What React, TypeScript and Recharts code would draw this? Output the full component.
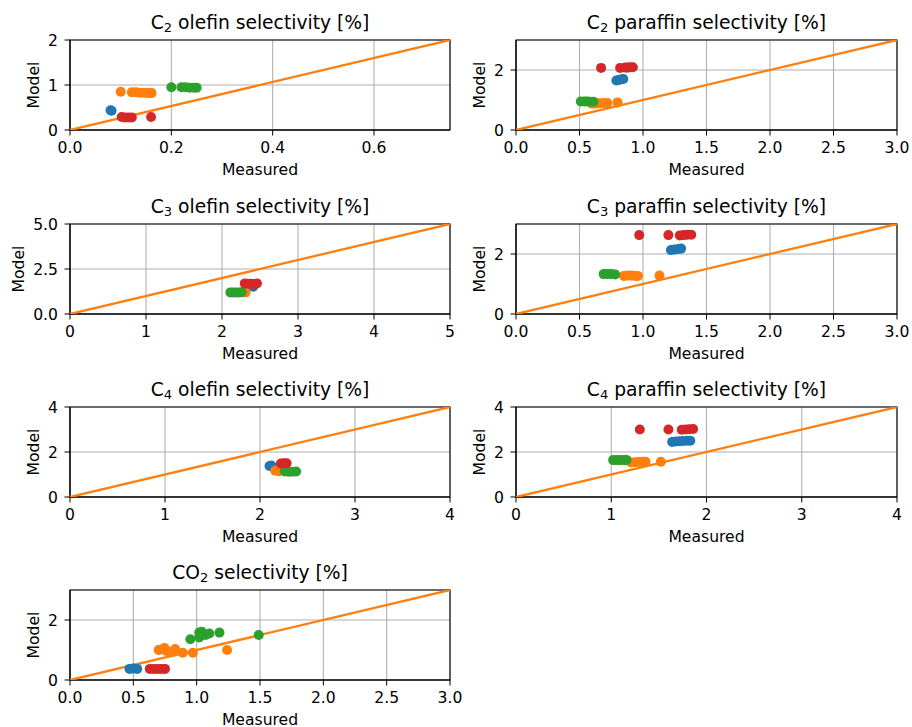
import React from "react";
import { ScatterChart, Scatter, XAxis, YAxis, CartesianGrid, ReferenceArea } from "recharts";

type Pt = [number, number];

const BLUE = "#1f77b4";
const ORANGE = "#ff7f0e";
const GREEN = "#2ca02c";
const RED = "#d62728";
const FONT = "DejaVu Sans, sans-serif";

// tick labels
const TICKS_C2O_X = [0, 0.2, 0.4, 0.6];
const TICKS_C2O_Y = [0, 1, 2];
const TICKS_HALF = [0, 0.5, 1, 1.5, 2, 2.5, 3];
const TICKS_0_2 = [0, 2];
const TICKS_0_5 = [0, 1, 2, 3, 4, 5];
const TICKS_C3O_Y = [0, 2.5, 5];
const TICKS_0_4 = [0, 1, 2, 3, 4];
const TICKS_0_2_4 = [0, 2, 4];

// [measured, model]
const C2O_BLUE: Pt[] = [[0.08, 0.44], [0.082, 0.43]];
const C2O_ORANGE: Pt[] = [[0.1, 0.85], [0.122, 0.84], [0.13, 0.84], [0.138, 0.83], [0.146, 0.83], [0.154, 0.82], [0.161, 0.82]];
const C2O_GREEN: Pt[] = [[0.2, 0.95], [0.22, 0.95], [0.228, 0.95], [0.236, 0.94], [0.244, 0.94], [0.25, 0.94]];
const C2O_RED: Pt[] = [[0.102, 0.29], [0.108, 0.28], [0.115, 0.28], [0.122, 0.28], [0.16, 0.29]];

const C2P_BLUE: Pt[] = [[0.79, 1.65], [0.81, 1.67], [0.83, 1.69], [0.845, 1.7]];
const C2P_ORANGE: Pt[] = [[0.6, 0.88], [0.63, 0.88], [0.66, 0.89], [0.69, 0.9], [0.72, 0.9], [0.8, 0.92]];
const C2P_GREEN: Pt[] = [[0.51, 0.95], [0.54, 0.95], [0.56, 0.95], [0.58, 0.94], [0.61, 0.94]];
const C2P_RED: Pt[] = [[0.67, 2.07], [0.82, 2.07], [0.86, 2.08], [0.88, 2.08], [0.9, 2.09], [0.92, 2.09]];

const C3O_BLUE: Pt[] = [[2.38, 1.55], [2.41, 1.52]];
const C3O_ORANGE: Pt[] = [[2.28, 1.21], [2.31, 1.2]];
const C3O_GREEN: Pt[] = [[2.11, 1.2], [2.15, 1.2], [2.19, 1.2], [2.23, 1.2], [2.26, 1.21]];
const C3O_RED: Pt[] = [[2.3, 1.7], [2.34, 1.68], [2.38, 1.68], [2.42, 1.67], [2.46, 1.7]];

const C3P_BLUE: Pt[] = [[1.22, 2.13], [1.25, 2.15], [1.28, 2.17], [1.3, 2.18]];
const C3P_ORANGE: Pt[] = [[0.85, 1.27], [0.88, 1.28], [0.91, 1.28], [0.94, 1.27], [0.96, 1.27], [1.13, 1.28]];
const C3P_GREEN: Pt[] = [[0.69, 1.33], [0.72, 1.33], [0.75, 1.33], [0.78, 1.32]];
const C3P_RED: Pt[] = [[0.97, 2.63], [1.2, 2.63], [1.29, 2.62], [1.32, 2.63], [1.35, 2.64], [1.38, 2.64]];

const C4O_BLUE: Pt[] = [[2.1, 1.38], [2.12, 1.4]];
const C4O_ORANGE: Pt[] = [[2.16, 1.17], [2.2, 1.15]];
const C4O_GREEN: Pt[] = [[2.26, 1.13], [2.3, 1.12], [2.34, 1.12], [2.38, 1.13]];
const C4O_RED: Pt[] = [[2.22, 1.49], [2.25, 1.5], [2.28, 1.5]];

const C4P_BLUE: Pt[] = [[1.64, 2.45], [1.68, 2.47], [1.72, 2.48], [1.76, 2.49], [1.8, 2.5], [1.83, 2.5]];
const C4P_ORANGE: Pt[] = [[1.21, 1.53], [1.25, 1.55], [1.29, 1.56], [1.33, 1.57], [1.36, 1.57], [1.52, 1.57]];
const C4P_GREEN: Pt[] = [[1.02, 1.64], [1.06, 1.64], [1.1, 1.64], [1.14, 1.64], [1.16, 1.65]];
const C4P_RED: Pt[] = [[1.3, 3.0], [1.6, 3.0], [1.74, 2.99], [1.78, 3.0], [1.82, 3.01], [1.86, 3.02]];

const CO2_BLUE: Pt[] = [[0.47, 0.37], [0.5, 0.38], [0.53, 0.37]];
const CO2_ORANGE: Pt[] = [[0.7, 1.0], [0.745, 1.07], [0.76, 0.97], [0.79, 0.94], [0.83, 1.03], [0.89, 0.91], [0.97, 0.91], [1.24, 1.0]];
const CO2_GREEN: Pt[] = [[0.95, 1.36], [1.02, 1.42], [1.02, 1.58], [1.04, 1.61], [1.07, 1.5], [1.1, 1.55], [1.18, 1.58], [1.49, 1.5]];
const CO2_RED: Pt[] = [[0.63, 0.37], [0.66, 0.37], [0.69, 0.37], [0.72, 0.37], [0.75, 0.37]];

const toXY = (a: Pt[]) => a.map(([x, y]) => ({ x, y }));
const fmt1 = (v: number) => v.toFixed(1);
const fmt0 = (v: number) => String(v);

const PLOT_H = 90;

function Title({ head, sub, tail }: { head: string; sub: string; tail: string }) {
  return (
    <>
      {head}
      <span style={{ fontSize: "0.7em", position: "relative", top: "0.25em" }}>{sub}</span>
      {tail}
    </>
  );
}

interface PanelProps {
  title: React.ReactNode;
  left: number;
  top: number;
  width: number;
  xMax: number;
  yMax: number;
  xTicks: number[];
  yTicks: number[];
  xFmt: (v: number) => string;
  yFmt: (v: number) => string;
  yLabelGap: number;
  series: { color: string; pts: Pt[] }[];
}

function Panel(p: PanelProps) {
  const chartW = p.width + 60 + 16;
  const chartH = 40 + PLOT_H + 55;
  const parity = [{ x: 0, y: 0 }, { x: p.xMax, y: p.yMax }];
  const tickStyle = { fill: "#000", fontSize: 15.6, fontFamily: FONT };
  return (
    <>
      <div
        style={{
          position: "absolute",
          left: p.left,
          top: p.top - 28,
          width: p.width,
          textAlign: "center",
          fontSize: 18.7,
          lineHeight: "22px",
          whiteSpace: "nowrap",
          fontFamily: FONT,
        }}
      >
        {p.title}
      </div>
      <div style={{ position: "absolute", left: p.left - 60, top: p.top - 40 }}>
        <ScatterChart width={chartW} height={chartH} margin={{ top: 40, right: 16, bottom: 0, left: 0 }} style={{ overflow: "visible" }}>
          <CartesianGrid stroke="#b0b0b0" strokeWidth={1.1} />
          <XAxis
            type="number"
            dataKey="x"
            domain={[0, p.xMax]}
            ticks={p.xTicks}
            interval={0}
            tickFormatter={p.xFmt}
            allowDataOverflow
            height={55}
            tick={tickStyle}
            tickSize={5.5}
            tickMargin={6.5}
            tickLine={{ stroke: "#000" }}
            axisLine={{ stroke: "#000" }}
            label={{ value: "Measured", position: "insideBottom", offset: 10, fill: "#000", fontSize: 15.6, fontFamily: FONT }}
          />
          <YAxis
            type="number"
            dataKey="y"
            domain={[0, p.yMax]}
            ticks={p.yTicks}
            interval={0}
            tickFormatter={p.yFmt}
            allowDataOverflow
            width={60}
            tick={tickStyle}
            tickSize={5.5}
            tickMargin={6.5}
            tickLine={{ stroke: "#000" }}
            axisLine={{ stroke: "#000" }}
            label={(lp: any) => {
              const vb = lp.viewBox;
              const x = vb.x + vb.width - p.yLabelGap;
              const y = vb.y + vb.height / 2;
              return (
                <text x={x} y={y} transform={`rotate(-90 ${x} ${y})`} textAnchor="middle" fontSize={15.6} fontFamily={FONT} fill="#000">
                  Model
                </text>
              );
            }}
          />
          <Scatter
            data={parity}
            line={{ stroke: ORANGE, strokeWidth: 2.3 }}
            shape={() => <g />}
            isAnimationActive={false}
          />
          {p.series.map((s, i) => (
            <Scatter
              key={i}
              data={toXY(s.pts)}
              fill={s.color}
              isAnimationActive={false}
              shape={(sp: any) => <circle cx={sp.cx} cy={sp.cy} r={5} fill={s.color} />}
            />
          ))}
          <ReferenceArea x1={0} x2={p.xMax} y1={0} y2={p.yMax} fill="none" stroke="#000" strokeWidth={1.1} ifOverflow="visible" />
        </ScatterChart>
      </div>
    </>
  );
}

const LEFT_X = 70;
const RIGHT_X = 516;
const ROW_Y = [40, 224, 407, 590];

export default function App() {
  return (
    <div style={{ position: "absolute", left: 0, top: 0, width: 912, height: 727, background: "#fff", fontFamily: FONT }}>
      <Panel
        title={<Title head="C" sub="2" tail=" olefin selectivity [%]" />}
        left={LEFT_X} top={ROW_Y[0]} width={380}
        xMax={0.75} yMax={2} xTicks={TICKS_C2O_X} yTicks={TICKS_C2O_Y} xFmt={fmt1} yFmt={fmt0} yLabelGap={30.8}
        series={[{ color: BLUE, pts: C2O_BLUE }, { color: ORANGE, pts: C2O_ORANGE }, { color: GREEN, pts: C2O_GREEN }, { color: RED, pts: C2O_RED }]}
      />
      <Panel
        title={<Title head="C" sub="2" tail=" paraffin selectivity [%]" />}
        left={RIGHT_X} top={ROW_Y[0]} width={381}
        xMax={3} yMax={3} xTicks={TICKS_HALF} yTicks={TICKS_0_2} xFmt={fmt1} yFmt={fmt0} yLabelGap={30.8}
        series={[{ color: BLUE, pts: C2P_BLUE }, { color: ORANGE, pts: C2P_ORANGE }, { color: GREEN, pts: C2P_GREEN }, { color: RED, pts: C2P_RED }]}
      />
      <Panel
        title={<Title head="C" sub="3" tail=" olefin selectivity [%]" />}
        left={LEFT_X} top={ROW_Y[1]} width={380}
        xMax={5} yMax={5} xTicks={TICKS_0_5} yTicks={TICKS_C3O_Y} xFmt={fmt0} yFmt={fmt1} yLabelGap={45.7}
        series={[{ color: BLUE, pts: C3O_BLUE }, { color: ORANGE, pts: C3O_ORANGE }, { color: GREEN, pts: C3O_GREEN }, { color: RED, pts: C3O_RED }]}
      />
      <Panel
        title={<Title head="C" sub="3" tail=" paraffin selectivity [%]" />}
        left={RIGHT_X} top={ROW_Y[1]} width={381}
        xMax={3} yMax={3} xTicks={TICKS_HALF} yTicks={TICKS_0_2} xFmt={fmt1} yFmt={fmt0} yLabelGap={30.8}
        series={[{ color: BLUE, pts: C3P_BLUE }, { color: ORANGE, pts: C3P_ORANGE }, { color: GREEN, pts: C3P_GREEN }, { color: RED, pts: C3P_RED }]}
      />
      <Panel
        title={<Title head="C" sub="4" tail=" olefin selectivity [%]" />}
        left={LEFT_X} top={ROW_Y[2]} width={380}
        xMax={4} yMax={4} xTicks={TICKS_0_4} yTicks={TICKS_0_2_4} xFmt={fmt0} yFmt={fmt0} yLabelGap={30.8}
        series={[{ color: BLUE, pts: C4O_BLUE }, { color: ORANGE, pts: C4O_ORANGE }, { color: GREEN, pts: C4O_GREEN }, { color: RED, pts: C4O_RED }]}
      />
      <Panel
        title={<Title head="C" sub="4" tail=" paraffin selectivity [%]" />}
        left={RIGHT_X} top={ROW_Y[2]} width={381}
        xMax={4} yMax={4} xTicks={TICKS_0_4} yTicks={TICKS_0_2_4} xFmt={fmt0} yFmt={fmt0} yLabelGap={30.8}
        series={[{ color: BLUE, pts: C4P_BLUE }, { color: ORANGE, pts: C4P_ORANGE }, { color: GREEN, pts: C4P_GREEN }, { color: RED, pts: C4P_RED }]}
      />
      <Panel
        title={<Title head="CO" sub="2" tail=" selectivity [%]" />}
        left={LEFT_X} top={ROW_Y[3]} width={380}
        xMax={3} yMax={3} xTicks={TICKS_HALF} yTicks={TICKS_0_2} xFmt={fmt1} yFmt={fmt0} yLabelGap={30.8}
        series={[{ color: BLUE, pts: CO2_BLUE }, { color: ORANGE, pts: CO2_ORANGE }, { color: GREEN, pts: CO2_GREEN }, { color: RED, pts: CO2_RED }]}
      />
    </div>
  );
}
